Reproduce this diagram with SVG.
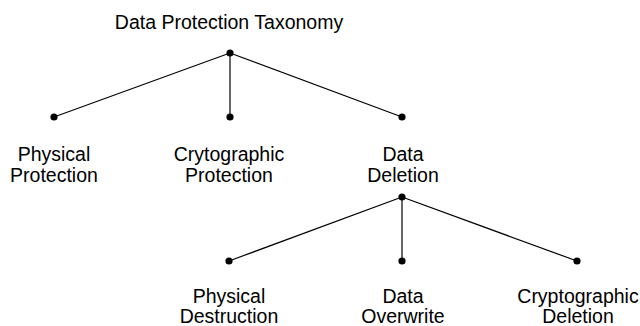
<svg xmlns="http://www.w3.org/2000/svg" width="640" height="326" viewBox="0 0 640 326">
  <style>
    .lbl { font-family: "Liberation Sans", Arial, sans-serif; font-size: 19.5px; fill: #000; text-anchor: middle; }
    .edge { stroke: #000; stroke-width: 1.2; fill: none; }
    .dot { fill: #000; }
  </style>
  <rect width="640" height="326" fill="#fff"/>

  <!-- connectors -->
  <g id="connectors">
    <line class="edge" x1="230" y1="53" x2="54" y2="117"/>
    <line class="edge" x1="230" y1="53" x2="230" y2="117"/>
    <line class="edge" x1="230" y1="53" x2="402" y2="117"/>
    <line class="edge" x1="402" y1="197" x2="229" y2="261"/>
    <line class="edge" x1="402" y1="197" x2="402" y2="261"/>
    <line class="edge" x1="402" y1="197" x2="577" y2="261"/>
  </g>

  <!-- root -->
  <g id="root">
    <text class="lbl" x="229" y="29">Data Protection Taxonomy</text>
    <circle class="dot" cx="230" cy="53" r="3.6"/>
  </g>

  <!-- first level -->
  <g id="physical-protection">
    <circle class="dot" cx="54" cy="117" r="3.6"/>
    <text class="lbl" x="54" y="161">Physical</text>
    <text class="lbl" x="54" y="182">Protection</text>
  </g>
  <g id="crytographic-protection">
    <circle class="dot" cx="230" cy="117" r="3.6"/>
    <text class="lbl" x="229" y="161">Crytographic</text>
    <text class="lbl" x="229" y="182">Protection</text>
  </g>
  <g id="data-deletion">
    <circle class="dot" cx="402" cy="117" r="3.6"/>
    <text class="lbl" x="403" y="161">Data</text>
    <text class="lbl" x="403" y="182">Deletion</text>
    <circle class="dot" cx="402" cy="197" r="3.6"/>
  </g>

  <!-- second level -->
  <g id="physical-destruction">
    <circle class="dot" cx="229" cy="261" r="3.6"/>
    <text class="lbl" x="229" y="303">Physical</text>
    <text class="lbl" x="229" y="323">Destruction</text>
  </g>
  <g id="data-overwrite">
    <circle class="dot" cx="402" cy="261" r="3.6"/>
    <text class="lbl" x="403" y="303">Data</text>
    <text class="lbl" x="403" y="323">Overwrite</text>
  </g>
  <g id="cryptographic-deletion">
    <circle class="dot" cx="577" cy="261" r="3.6"/>
    <text class="lbl" x="578" y="303">Cryptographic</text>
    <text class="lbl" x="578" y="323">Deletion</text>
  </g>
</svg>
